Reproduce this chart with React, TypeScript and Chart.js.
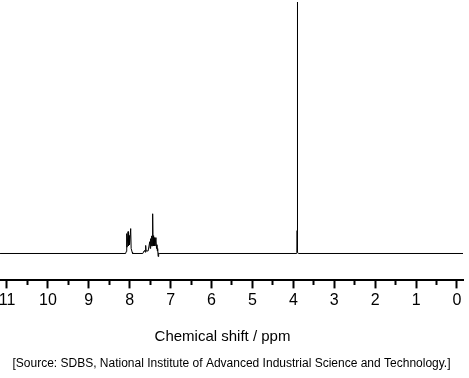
import React, { useEffect, useRef } from "react";
import { Chart, registerables } from "chart.js";

Chart.register(...registerables);

// Chemical shift (ppm) and relative intensity of the 1H NMR trace
const shiftPpm = [
  11.17, 8.1, 8.085, 8.073, 8.065, 8.041, 8.03, 8.017, 8.005, 7.976, 7.965, 7.951, 7.94, 7.93,
  7.68, 7.65, 7.634, 7.62, 7.61, 7.6, 7.55, 7.51, 7.5, 7.488, 7.475, 7.463, 7.452, 7.439, 7.43,
  7.422, 7.41, 7.398, 7.385, 7.359, 7.345, 7.334, 7.325, 7.317, 7.305, 7.293, 7.28,
  3.93, 3.915, 3.908, 3.904, 3.902, 3.899, 3.89, 3.875, -0.15,
];
const intensity = [
  0, 0, 0.8, 7.9, 2.5, 8.7, 3, 7.1, 3.5, 9.9, 2, 2.0, 0.5, 0,
  0, 1.0, 1.2, 0.5, 3.2, 1.0, 1.0, 4.7, 2, 5.9, 3, 7, 3, 15.8, 4,
  7.1, 3, 6.3, 3, 6.3, 2, 3.5, 1, 2, -1.2, 0.2, 0,
  0, 0.3, 9.1, 1, 100, 3.2, 0.5, 0, 0,
];

const xMin = -0.147;
const xMax = 11.171;
const axisTitle = "Chemical shift / ppm";
const sourceText =
  "[Source: SDBS, National Institute of Advanced Industrial Science and Technology.]";

const FONT = "'Liberation Sans', Arial, sans-serif";

const axisTitlePlugin = {
  id: "axisTitleOffset",
  afterDraw(chart: any) {
    const s = chart.scales.x;
    const ctx = chart.ctx;
    ctx.save();
    ctx.fillStyle = "#000";
    ctx.font = `15px ${FONT}`;
    ctx.textAlign = "center";
    ctx.textBaseline = "middle";
    ctx.fillText(axisTitle, (s.left + s.right) / 2 - 9, s.bottom - 10);
    ctx.restore();
  },
};

export default function App() {
  const ref = useRef<HTMLCanvasElement | null>(null);

  useEffect(() => {
    if (!ref.current) return;
    const points = shiftPpm.map((x, i) => ({ x, y: intensity[i] }));
    const chart = new Chart(ref.current, {
      type: "line",
      data: {
        datasets: [
          {
            data: points,
            borderColor: "#000",
            borderWidth: 1,
            pointRadius: 0,
            tension: 0,
            fill: false,
          },
        ],
      },
      plugins: [axisTitlePlugin],
      options: {
        responsive: false,
        animation: false,
        events: [],
        layout: { padding: { top: 2, right: 6, left: 0, bottom: 0 } },
        plugins: {
          legend: { display: false },
          tooltip: { enabled: false },
          title: {
            display: true,
            position: "bottom",
            text: sourceText,
            color: "#000",
            font: { family: FONT, size: 12, weight: "normal" },
            padding: { top: 10, bottom: 7 },
          },
        },
        scales: {
          x: {
            type: "linear",
            reverse: true,
            min: xMin,
            max: xMax,
            afterBuildTicks: (scale: any) => {
              const t = [];
              for (let v = 0; v <= 11; v += 0.5) t.push({ value: v });
              scale.ticks = t;
            },
            afterFit: (scale: any) => {
              scale.paddingLeft = 0;
              scale.paddingRight = 0;
              scale.height += 33;
            },
            border: { display: true, color: "#000", width: 2 },
            grid: {
              drawOnChartArea: false,
              drawTicks: true,
              tickLength: 8,
              tickWidth: 2,
              tickColor: "#000",
              tickBorderDash: (ctx: any) =>
                ctx.tick && Math.abs(ctx.tick.value % 1) > 0.01 ? [4, 100] : [],
            },
            ticks: {
              color: "#000",
              padding: 3,
              maxRotation: 0,
              autoSkip: false,
              font: { family: FONT, size: 16 },
              callback: (v: any) =>
                Math.abs(Number(v) % 1) < 0.01 ? String(Math.round(Number(v))) : "",
            },
            title: { display: false },
          },
          y: {
            display: false,
            min: -10.7,
            max: 100,
          },
        },
      },
    });
    return () => chart.destroy();
  }, []);

  return (
    <div style={{ position: "absolute", left: 0, top: 0, width: 469, height: 378, background: "#fff" }}>
      <canvas ref={ref} width={469} height={378} style={{ display: "block" }} />
    </div>
  );
}
